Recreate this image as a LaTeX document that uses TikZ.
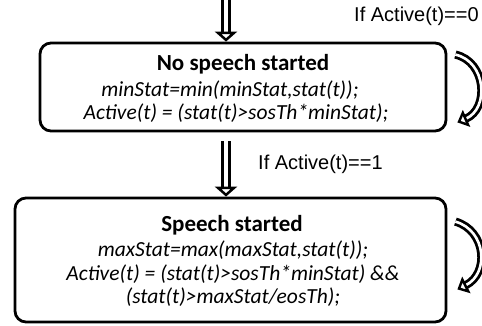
\documentclass[tikz,border=0pt]{standalone}
\usepackage{fontspec}
\setmainfont{Carlito}
\newfontfamily\condfont{Liberation Sans}
\usetikzlibrary{arrows.meta}

\tikzset{
  statebox/.style={draw,line width=2.8pt,rounded corners=11pt,inner sep=0pt},
  hollow/.style={double,double distance=4pt,line width=2.6pt,
    -{Triangle[open,length=10pt,width=22pt,line width=2.6pt]}},
  loop/.style={double,double distance=2.6pt,line width=2.8pt,
    -{Triangle[open,length=10pt,width=18pt,line width=2.4pt]}},
  condlabel/.style={font=\condfont\fontsize{20}{22}\selectfont,anchor=base west,inner sep=0pt},
  titletext/.style={font=\bfseries\fontsize{23}{26}\selectfont,anchor=base,inner sep=0pt},
  codetext/.style={font=\itshape\fontsize{21.5}{24}\selectfont,anchor=base,inner sep=0pt},
}

\begin{document}
\begin{tikzpicture}[x=1pt,y=-1pt]
\useasboundingbox (0,0) rectangle (482,325);
% states
\node[statebox,minimum width=406pt,minimum height=88pt] (nospeech) at (243,87) {};
\node[statebox,minimum width=431pt,minimum height=124pt] (speech) at (230.5,260) {};
\node[titletext] (nstitle) at (243,70) {No speech started};
\node[codetext] (nsmin) at (230,96) {minStat=min(minStat,stat(t));};
\node[codetext] (nsact) at (236,119) {Active(t) = (stat(t)>sosTh*minStat);};
\node[titletext] (sptitle) at (232,231) {Speech started};
\node[codetext] (spmax) at (233,256) {maxStat=max(maxStat,stat(t));};
\node[codetext] (spact) at (233,280) {Active(t) = (stat(t)>sosTh*minStat) \&\&};
\node[codetext] (speos) at (233,303) {(stat(t)>maxStat/eosTh);};
% transitions
\coordinate (entry) at (226,0);
\draw[hollow] (entry) -- (nospeech.north -| entry);
\draw[hollow] ([yshift=-9pt]nospeech.south -| entry) -- (speech.north -| entry);
\node[condlabel] (stay) at (354,21) {If Active(t)==0};
\node[condlabel] (go) at (258,169) {If Active(t)==1};
\draw[loop] ([xshift=8pt,yshift=-13pt]nospeech.north east) .. controls +(31,7) and +(32,-14) .. ([xshift=10pt,yshift=10pt]nospeech.south east);
\draw[loop] ([xshift=8pt,yshift=-25pt]speech.north east) .. controls +(31,9) and +(32,-16) .. ([xshift=10pt,yshift=34pt]speech.south east);
\end{tikzpicture}
\end{document}
